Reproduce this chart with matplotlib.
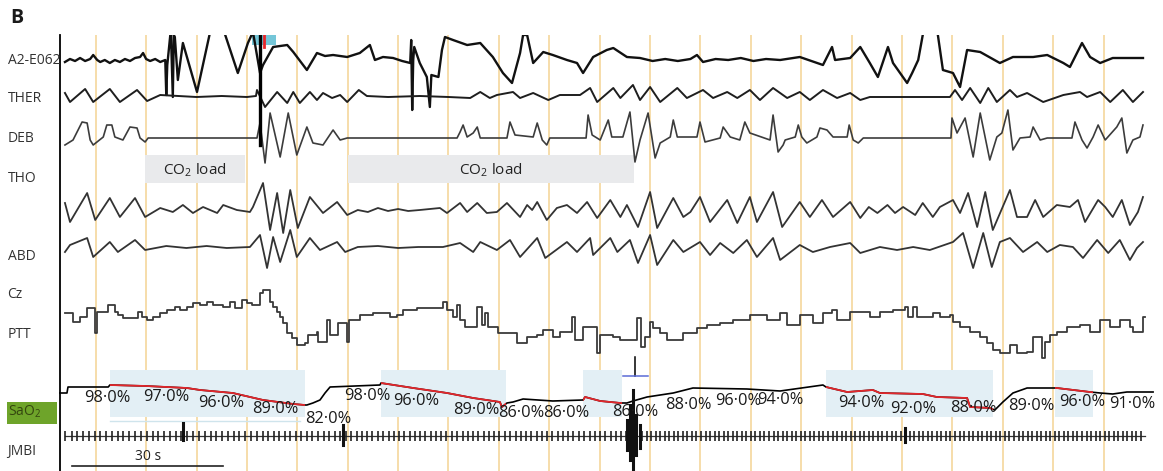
"""Polysomnography excerpt (panel B): respiratory traces, PTT, SaO2 and ECG
with CO2-load periods and desaturation windows marked.

Time runs in seconds; trace values are in display units (positive = up)
relative to each channel's row.
"""

import numpy as np
import matplotlib.pyplot as plt
from matplotlib.patches import Rectangle

plt.rcParams['font.family'] = ['Open Sans', 'DejaVu Sans']
plt.rcParams['mathtext.fontset'] = 'custom'
plt.rcParams['mathtext.rm'] = 'Open Sans'

# ---------------------------------------------------------------- data
channel_names = ["A2-E062", "THER", "DEB", "THO", "ABD", "Cz", "PTT", "SaO2", "JMBI"]

# EEG A2-E062 (time s, value)
eeg = [(3.9, -2), (4.9, 1), (5.9, -1), (6.9, 2), (7.9, -1), (8.9, 1), (9.5, 5), (10.3, 0),
       (10.9, -2), (11.8, 0), (12.8, -3), (13.8, 0), (14.8, -2), (15.8, 1), (16.8, -1),
       (17.8, 2), (18.8, 3), (19.4, 7), (20.0, 1), (20.8, -1), (21.8, 1), (22.8, -2),
       (23.8, 0), (24.0, -35), (24.2, -5), (24.9, 30), (25.3, -37), (25.5, 25), (25.7, 23),
       (26.3, -20), (27.3, 17), (30.1, -32), (32.7, 28), (34.3, 40), (35.7, 25), (38.2, -13),
       (40.2, 17), (41.2, 28), (42.6, -13), (43.2, -5), (45.2, 13), (48.0, 15), (49.2, 8),
       (51.9, -10), (53.9, 7), (55.5, 4), (57.1, 5), (59.9, 3), (62.4, 7), (64.4, 15),
       (65.4, 0), (67.0, 3), (69.0, 2), (70.8, -1), (72.4, -3), (72.6, 20), (72.8, -50),
       (73.0, 0), (73.2, 13), (74.3, -3), (75.7, -17), (76.3, -47), (76.6, -15), (78.0, -17),
       (78.7, 10), (79.3, 23), (80.9, 20), (83.7, 15), (86.3, 17), (88.8, 3), (90.8, -13),
       (92.6, -23), (94.2, 7), (94.8, 25), (95.6, 25), (96.8, -3), (98.8, 8), (100.7, 5),
       (103.5, 0), (105.5, -3), (106.7, -13), (108.7, 3), (111.4, 10), (112.7, 12),
       (115.4, 3), (118.0, 2), (120.5, -1), (123.0, 1), (125.5, -1), (128.0, 1), (129.3, 5),
       (130.5, -2), (133.0, 1), (135.5, 0), (138.0, 2), (140.5, -1), (143.0, 1), (145.8, 0),
       (149.7, 3), (152.0, -1), (154.3, -5), (156.1, 13), (156.7, 0), (159.7, 2), (161.7, 13),
       (163.6, -3), (165.2, -17), (167.2, 13), (168.2, -3), (171.0, -23), (172.0, -13),
       (173.2, 0), (174.1, 25), (175.5, 45), (177.1, 25), (178.1, -10), (180.1, -13),
       (181.5, -27), (182.9, 10), (185.5, 8), (189.4, -3), (192.0, 3), (196.0, 3), (198.8, 5),
       (202.0, -3), (203.3, -7), (205.7, 17), (207.3, 3), (209.3, -3), (211.8, 2), (215.2, 2),
       (217.8, 2)]

# oronasal thermistor
ther = [(3.9, 4), (4.9, -5), (7.9, 8), (9.5, -5), (12.8, 8), (14.8, -5), (18.2, 7), (20.2, -4),
        (22.8, 2), (30.0, 0), (35.0, 1), (40.0, 0), (41.8, 1), (42.0, 7), (43.6, -10),
        (46.0, 5), (48.0, -6), (49.2, 5), (50.5, -6), (52.5, 5), (53.9, -3), (55.1, 4),
        (56.9, -1), (58.5, 2), (59.9, -5), (62.2, 7), (63.8, 1), (68.0, 0), (74.3, 1),
        (80.0, 0), (84.3, -1), (86.3, 5), (88.2, -1), (89.6, 2), (92.8, 5), (94.2, -1),
        (96.8, 4), (99.8, -3), (102.1, 2), (106.1, 2), (108.1, 9), (109.5, -5), (112.7, 9),
        (114.1, -1), (116.6, 12), (118.0, -3), (120.0, 10), (122.0, -5), (125.4, 9),
        (127.3, -1), (130.5, 7), (132.5, -1), (135.3, 5), (137.3, -1), (139.8, 7), (141.8, -3),
        (144.4, 9), (147.2, -1), (149.7, 5), (151.7, -3), (154.3, 7), (157.1, -1), (159.7, 4),
        (161.7, -3), (163.6, 0), (170.0, 0), (179.5, 0), (180.5, 7), (181.9, -3), (183.5, 9),
        (185.5, -6), (187.1, 9), (188.8, -5), (191.4, 7), (192.8, 0), (194.8, 4), (198.0, -5),
        (202.0, 2), (205.3, 5), (206.7, 0), (209.3, 5), (211.3, -5), (213.8, 7), (215.8, -5),
        (217.8, 5)]

# nasal pressure (DEB)
deb = [(3.9, -7), (5.5, -2), (7.3, 16), (8.3, 15), (8.9, -2), (9.5, -7), (11.5, 1), (12.2, 13),
       (13.2, 13), (13.8, 1), (15.4, -2), (16.8, 11), (18.2, 10), (18.8, 0), (19.8, -4),
       (20.4, 0), (42.0, 0), (42.6, 15), (43.6, -25), (44.6, 25), (46.6, -19), (48.2, 25),
       (49.9, -17), (51.9, 11), (53.1, -5), (55.1, -7), (57.1, 8), (58.5, -2), (59.9, 0),
       (81.7, 0), (82.3, 6), (82.9, 13), (83.7, 1), (84.9, 5), (85.7, 11), (86.3, 0),
       (91.6, 0), (92.2, 16), (93.2, 3), (96.8, 1), (97.6, 15), (98.6, -2), (99.5, -7),
       (100.1, 0), (107.3, 0), (107.7, 23), (108.5, 3), (110.1, -2), (111.7, 18), (112.4, 1),
       (114.6, 1), (116.0, 26), (117.0, -24), (118.0, -2), (119.6, 25), (121.0, -20),
       (122.0, -5), (124.0, 1), (124.6, 18), (125.4, 1), (129.3, 1), (129.9, 16), (130.9, -4),
       (133.9, 0), (134.5, 11), (135.9, 1), (137.8, -2), (138.8, 16), (139.8, 5), (143.8, -2),
       (144.4, 23), (145.4, -14), (146.4, -7), (146.8, -2), (148.8, 1), (149.4, 13),
       (150.1, 1), (151.1, -5), (153.1, 1), (153.7, 10), (155.1, 8), (156.3, 1), (159.1, 1),
       (159.5, 13), (160.3, -2), (161.3, -5), (162.3, 0), (179.7, 0), (179.9, 20), (180.9, 5),
       (182.5, 20), (184.1, -19), (185.5, 25), (187.4, -22), (188.8, 1), (189.8, 5),
       (191.0, 28), (192.0, -12), (193.4, 0), (195.4, 1), (196.0, 11), (197.4, -2),
       (198.8, 0), (203.7, 0), (204.3, 16), (205.7, -2), (206.7, -10), (207.9, 1),
       (208.9, 13), (210.3, -2), (212.6, 11), (213.6, 20), (214.6, -15), (215.8, -2),
       (217.2, 1), (217.8, 13)]

# thoracic belt
tho = [(3.9, 7), (4.9, -12), (8.3, 17), (9.9, -10), (12.8, 12), (14.8, -7), (17.8, 12),
       (19.8, -7), (22.8, 2), (25.3, -2), (27.3, 5), (29.3, -3), (31.3, 3), (34.1, -3),
       (35.3, 5), (38.0, 0), (40.6, -2), (41.2, 3), (43.2, 27), (44.6, -20), (46.0, 17),
       (47.2, -23), (48.6, 20), (50.1, -18), (52.5, 13), (55.1, -3), (57.9, 8), (59.9, -5),
       (62.0, 0), (64.0, -2), (66.0, 2), (68.0, -1), (70.0, 1), (72.0, -1), (74.3, 0),
       (78.3, 2), (79.7, -3), (82.3, 7), (83.7, -2), (85.7, 7), (87.6, -3), (89.6, -2),
       (91.6, 7), (94.2, -7), (95.6, 5), (96.6, 0), (97.6, 8), (99.5, -10), (101.5, 2),
       (103.5, 5), (105.5, -3), (107.5, 8), (109.5, -8), (112.1, 10), (114.1, -7), (115.4, 5),
       (117.6, -17), (120.0, 18), (121.4, -18), (124.6, 12), (126.6, -7), (128.0, -2),
       (129.9, 13), (131.9, -12), (135.3, 10), (137.3, -13), (139.8, 13), (141.2, -12),
       (144.4, 18), (146.2, -17), (149.7, 8), (151.7, -7), (154.1, 10), (156.3, -7),
       (159.7, 8), (161.7, -8), (163.4, 3), (165.1, -3), (167.1, 5), (168.6, -3), (170.2, 3),
       (172.6, -5), (174.1, 7), (176.1, -7), (177.5, 3), (180.1, 10), (181.5, -3), (183.1, 17),
       (184.9, -17), (186.5, 18), (188.0, -20), (191.4, 20), (192.8, -7), (194.8, -7),
       (196.4, 10), (198.0, -7), (200.7, 5), (203.3, 3), (204.9, 10), (206.3, -12),
       (208.9, 10), (210.3, 3), (211.8, -7), (213.6, 10), (215.2, -15), (216.8, -2),
       (217.8, 13)]

# abdominal belt
abd = [(3.9, -5), (4.9, 2), (8.3, 9), (9.5, -10), (12.8, 5), (14.4, -5), (17.8, 7), (19.8, -3),
       (24.0, 1), (28.0, -1), (32.0, 1), (36.0, -1), (40.6, 0), (42.6, 12), (44.0, -21),
       (45.2, 10), (46.6, -15), (48.6, 17), (49.9, -10), (52.5, 9), (54.5, -3), (57.9, 5),
       (59.5, -5), (62.0, 0), (66.0, 1), (70.0, -1), (74.0, 0), (78.9, 0), (82.3, 4),
       (84.9, -5), (86.3, 5), (89.6, -3), (92.2, 7), (94.2, -10), (97.6, 9), (99.2, -11),
       (103.5, 5), (105.5, -5), (108.1, 9), (108.7, -8), (112.1, 9), (113.5, -5), (116.0, 7),
       (117.6, -16), (120.0, 12), (121.4, -18), (124.6, 7), (126.6, -5), (129.9, 5),
       (131.9, -8), (133.9, 4), (136.5, -6), (139.2, 7), (141.2, -10), (144.4, 9),
       (145.8, -13), (149.7, 2), (152.3, -5), (155.7, 0), (159.7, 4), (161.7, -6), (165.6, 0),
       (169.0, -3), (172.2, 0), (175.5, -3), (180.1, 5), (182.1, 14), (184.1, -21),
       (186.1, 14), (187.8, -20), (189.4, 5), (191.4, 9), (194.0, -5), (196.8, 5), (198.8, -5),
       (201.3, 2), (203.9, 0), (205.9, -11), (208.7, 7), (210.9, -6), (213.2, 7),
       (215.2, -13), (216.6, -1), (217.8, 5)]

# pulse transit time (held value from each time on)
ptt = [(3.9, 7), (5.5, -2), (6.9, 3), (8.3, 12), (9.9, -13), (10.3, 8), (12.4, 15), (13.8, 8),
       (14.4, 5), (15.4, 2), (18.4, 8), (19.2, 3), (20.2, 0), (21.4, 3), (22.8, 7), (24.1, 10),
       (25.7, 13), (26.7, 10), (28.1, 13), (29.3, 17), (30.7, 15), (32.1, 18), (33.3, 15),
       (35.3, 13), (36.6, 18), (37.6, 12), (39.0, 20), (40.0, 17), (41.0, 15), (42.6, 27),
       (43.2, 30), (44.6, 18), (45.2, 13), (46.0, 8), (46.6, 3), (47.2, -3), (48.0, -13),
       (49.0, -18), (49.9, -25), (51.5, -23), (52.1, -15), (53.9, -12), (54.1, -22),
       (55.9, 0), (56.5, -15), (58.1, -3), (59.9, -22), (60.3, 0), (62.4, 5), (65.0, 7),
       (68.4, 3), (69.8, 5), (71.0, 10), (73.8, 12), (76.9, 12), (78.9, 18), (79.7, 10),
       (80.9, 3), (81.7, 15), (82.3, 0), (83.3, -7), (85.7, 13), (86.7, -5), (87.3, 7),
       (87.9, -7), (89.8, -13), (93.6, -23), (95.6, -17), (97.6, -15), (98.8, -10),
       (100.7, -17), (102.1, -12), (104.5, 3), (105.1, -20), (106.7, -7), (109.5, -33),
       (110.1, -15), (112.7, -17), (114.1, -20), (117.4, 2), (118.2, -27), (119.0, -17),
       (120.0, -2), (120.6, -8), (122.0, -13), (123.4, -20), (126.6, -13), (129.3, -8),
       (131.3, -5), (133.9, -3), (136.5, 0), (139.8, 5), (143.2, 0), (145.8, 7), (147.2, -5),
       (149.7, 5), (152.3, -3), (154.3, 7), (156.1, 10), (157.1, 0), (159.7, 8), (163.6, 3),
       (165.6, 8), (168.2, 10), (170.6, 13), (171.2, 3), (172.2, 13), (173.0, 3), (176.1, 7),
       (177.5, 3), (179.5, 5), (180.1, -2), (181.5, -7), (183.5, -12), (185.5, -17),
       (186.8, -23), (188.0, -30), (189.4, -33), (191.4, -25), (192.8, -33), (194.8, -32),
       (196.0, -17), (197.8, -38), (198.4, -22), (199.4, -15), (200.7, -12), (202.7, -7),
       (205.3, -5), (207.3, -12), (209.3, 0), (211.3, -7), (213.2, 0), (215.2, -7),
       (215.8, -12), (217.8, 3), (218.2, 3)]

# oxygen saturation curve
sao2 = [(2.9, 2), (4.3, 2), (4.5, 8), (12.5, 8), (12.8, 10), (20.0, 9), (28.1, 7), (30.7, 5),
        (37.2, 2), (43.2, -5), (49.2, -9), (51.5, -10), (51.9, -10), (53.1, -8), (54.5, -5),
        (55.5, 2), (56.5, 8), (66.4, 10), (66.6, 12), (73.0, 7), (79.7, 2), (84.9, -3),
        (90.2, -7), (90.6, -12), (91.6, -8), (92.8, -7), (94.8, -4), (100.7, -6), (106.7, -5),
        (107.1, -2), (110.1, -6), (114.1, -8), (115.4, -8), (116.6, -6), (119.4, -2),
        (124.6, 2), (128.5, 7), (139.2, 6), (145.8, 4), (154.3, 10), (154.9, 8), (159.1, 3),
        (164.2, 5), (165.6, 2), (174.1, 1), (176.9, -2), (182.9, -3), (183.5, -12),
        (187.4, -13), (188.4, -15), (190.0, -7), (192.0, 2), (194.8, 7), (200.0, 7),
        (200.7, 7), (207.3, 3), (209.3, 2), (211.8, 1), (214.6, 3), (219.8, 3)]

sat_labels = ["98·0%", "97·0%", "96·0%", "89·0%", "82·0%", "98·0%", "96·0%", "89·0%",
              "86·0%", "86·0%", "86·0%", "88·0%", "96·0%", "94·0%", "94·0%", "92·0%",
              "88·0%", "89·0%", "96·0%", "91·0%"]
sat_label_t = [12.4, 23.9, 34.9, 45.6, 56.1, 63.8, 73.5, 85.5, 94.4, 103.3, 117.0, 127.5,
               137.4, 145.8, 161.9, 172.2, 184.1, 195.6, 205.7, 215.6]
sat_label_v = [-3, -2, -8, -14, -24, -1, -6, -15, -18, -18, -17, -10, -6, -5, -8, -14, -13,
               -11, -7, -9]

# desaturation windows and CO2-load periods (start s, end s)
desat_windows = [(12.8, 51.5), (66.6, 91.4), (106.7, 114.4), (154.9, 188.0), (200.3, 207.9)]
co2_windows = [(19.8, 39.6), (60.1, 116.8)]

# ECG R-wave times (s) and artefacts (time, up, down)
ecg_beats = [4.0, 5.2, 6.3, 7.5, 8.6, 9.8, 10.9, 12.1, 13.2, 14.4, 15.5, 16.7, 17.8, 19.0,
             20.1, 21.3, 22.4, 23.6, 24.7, 25.9, 27.0, 28.2, 29.3, 30.5, 31.6, 32.8, 33.9,
             35.1, 36.2, 37.4, 38.5, 39.7, 40.8, 42.0, 43.1, 44.2, 45.3, 46.4, 47.5, 48.6,
             49.7, 50.8, 51.9, 53.0, 54.1, 55.2, 56.3, 57.4, 58.5, 59.6, 60.7, 61.8, 62.8,
             63.9, 64.9, 66.0, 67.0, 68.1, 69.1, 70.2, 71.2, 72.3, 73.3, 74.4, 75.4, 76.5,
             77.5, 78.6, 79.6, 80.7, 81.7, 82.8, 83.8, 84.9, 85.9, 87.0, 88.0, 89.1, 90.1,
             91.2, 92.2, 93.3, 94.3, 95.4, 96.4, 97.5, 98.5, 99.6, 100.6, 101.7, 102.7, 103.8,
             104.8, 105.9, 106.9, 108.0, 109.0, 110.1, 111.1, 112.2, 113.2, 114.3, 115.3,
             118.4, 119.3, 120.2, 121.1, 122.0, 122.9, 123.8, 124.7, 125.6, 126.5, 127.4,
             128.3, 129.2, 130.1, 131.0, 131.9, 132.8, 133.7, 134.6, 135.5, 136.4, 137.3,
             138.2, 139.1, 140.0, 140.9, 141.8, 142.7, 143.6, 144.5, 145.4, 146.3, 147.2,
             148.1, 149.0, 149.9, 150.8, 151.7, 152.6, 153.5, 154.4, 155.3, 156.2, 157.1,
             158.0, 158.9, 159.8, 160.7, 161.6, 162.5, 163.4, 164.3, 165.2, 166.1, 167.0,
             167.9, 168.8, 169.7, 170.6, 171.5, 172.4, 173.3, 174.2, 175.1, 176.0, 176.9,
             177.8, 178.7, 179.6, 180.5, 181.4, 182.3, 183.2, 184.1, 185.0, 185.9, 186.8,
             187.7, 188.6, 189.5, 190.4, 191.3, 192.2, 193.1, 194.0, 194.9, 195.8, 196.7,
             197.6, 198.5, 199.4, 200.3, 201.2, 202.1, 203.0, 203.9, 204.8, 205.7, 206.6,
             207.5, 208.4, 209.3, 210.2, 211.1, 212.0, 212.9, 213.8, 214.7, 215.6, 216.5,
             217.4]
ecg_artifacts = [(27.3, 13, -4), (59.1, 11, -9), (115.4, 16, -14), (116.0, 31, -24),
                 (116.6, 46, -34), (117.2, 21, -19), (118.0, 11, -12), (170.6, 8, -6)]

grid_t = list(range(10, 211, 10))
scale_bar = (5.3, 35.3)  # 30 s

# ---------------------------------------------------------------- layout
row_base = {"A2-E062": 60, "THER": 97, "DEB": 138, "THO": 210, "ABD": 247,
            "PTT": 320, "SaO2": 395, "JMBI": 436}
label_y = [60, 98, 138, 178, 256, 295, 335, 412, 452]


def main():
    fig = plt.figure(figsize=(11.63, 4.71), dpi=100)
    ax = fig.add_axes([0, 0, 1, 436 / 471])
    ax.set_xlim(-8.99, 221.77)
    ax.set_ylim(471, 35)
    ax.axis("off")

    for g in grid_t:
        ax.axvline(g, color="#f6ddaa", lw=1.4, zorder=0)
    ax.plot([2.9, 2.9], [35, 471], color="black", lw=1.3, clip_on=False, zorder=3)

    # CO2 load boxes
    for t0, t1 in co2_windows:
        ax.add_patch(Rectangle((t0, 155), t1 - t0, 28, fc="#e9eaec", ec="none", zorder=1))
        ax.text((t0 + t1) / 2, 170, "CO$_\\mathregular{2}$ load", ha="center", va="center",
                fontsize=11, color="#222222", zorder=2)

    traces = [("A2-E062", eeg, "#111111", 1.7), ("THER", ther, "#1e1e1e", 1.4),
              ("DEB", deb, "#3c3c3c", 1.2), ("THO", tho, "#333333", 1.3),
              ("ABD", abd, "#333333", 1.3)]
    for name, pts, col, lw in traces:
        arr = np.array(pts, dtype=float)
        ax.plot(arr[:, 0], row_base[name] - arr[:, 1], color=col, lw=lw, zorder=3,
                solid_joinstyle="round")

    arr = np.array(ptt, dtype=float)
    ax.plot(arr[:, 0], row_base["PTT"] - arr[:, 1], color="#3a3a3a", lw=1.3,
            drawstyle="steps-post", zorder=3)

    # artefact marks
    ax.add_patch(Rectangle((41.0, 35), 4.8, 10, fc="#74c6d8", ec="none", zorder=2))
    ax.plot([42.6, 42.6], [36, 145], color="black", lw=2.4, zorder=4)
    ax.plot([43.3, 43.3], [35, 47], color="#e8262a", lw=2.0, zorder=4)
    ax.plot([117.0, 117.0], [357, 376], color="black", lw=1.1, zorder=4)
    ax.plot([114.6, 119.6], [376, 376], color="#5a6bd6", lw=1.1, zorder=4)

    # SaO2 with desaturation windows
    s = np.array(sao2, dtype=float)
    sy = row_base["SaO2"] - s[:, 1]
    ax.plot(s[:, 0], sy, color="black", lw=1.2, zorder=3)
    for t0, t1 in desat_windows:
        box = Rectangle((t0, 370), t1 - t0, 47, fc="#e3eff5", ec="none", zorder=1)
        ax.add_patch(box)
        red, = ax.plot(s[:, 0], sy, color="#e3262b", lw=1.3, zorder=4)
        red.set_clip_path(box)
    ax.plot([12.8, 50.5], [421, 421], color="#cfe4ec", lw=1.0, zorder=1)
    for lab, t, v in zip(sat_labels, sat_label_t, sat_label_v):
        ax.text(t, row_base["SaO2"] - v, lab, ha="center", va="center", fontsize=11.8,
                color="#1a1a1a", zorder=5)

    # ECG
    base = row_base["JMBI"]
    ax.plot([3.9, 218.2], [base, base], color="#333333", lw=0.9, zorder=3)
    ax.vlines(ecg_beats, base - 5, base + 5, color="#222222", lw=1.2, zorder=3)
    for t, up, dn in ecg_artifacts:
        ax.plot([t, t], [base - up, base - dn], color="#111111", lw=2.2, zorder=4)

    # scale bar
    ax.plot(scale_bar, [466, 466], color="#222222", lw=1.2, zorder=3)
    ax.text(sum(scale_bar) / 2, 456, "30 s", ha="center", va="center", fontsize=10,
            color="#222222")

    # channel labels
    ax.add_patch(Rectangle((-7.6, 402), 9.9, 22, fc="#6ea42a", ec="none", zorder=2,
                           clip_on=False))
    for name, y in zip(channel_names, label_y):
        text = "SaO$_\\mathregular{2}$" if name == "SaO2" else name
        col = "#34460f" if name == "SaO2" else "#333333"
        ax.text(-7.5, y, text, ha="left", va="center", fontsize=10, color=col, zorder=3)

    fig.text(10 / 1163, 1 - 18 / 471, "B", fontsize=14, fontweight="bold", va="center",
             ha="left", color="#1a1a1a")

    fig.savefig("out.png", dpi=100)


if __name__ == "__main__":
    main()
